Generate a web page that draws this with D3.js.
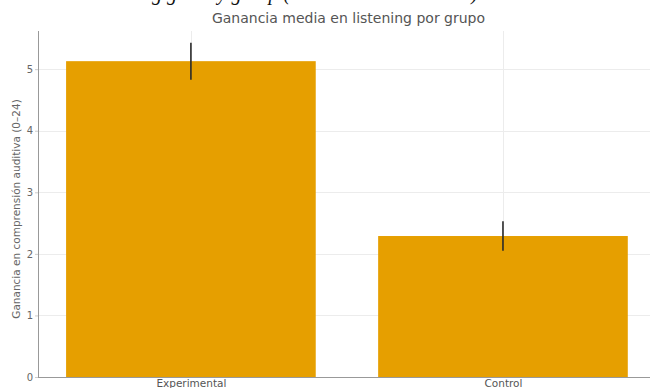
<!DOCTYPE html>
<html>
<head>
<meta charset="utf-8">
<script src="https://cdn.jsdelivr.net/npm/d3@7"></script>
<style>
  html, body { margin: 0; padding: 0; background: #fff; overflow: hidden; }
  svg { display: block; }
</style>
</head>
<body>
<svg id="chart" width="650" height="388"></svg>
<script>
// Mean listening gain per group, with error bars
const groups = ["Experimental", "Control"];
const meanGain = [5.13, 2.29];
const errGain = [0.30, 0.24];
const yTicks = [0, 1, 2, 3, 4, 5];

const titleText = "Ganancia media en listening por grupo";
const yLabelText = "Ganancia en comprensión auditiva (0–24)";
const captionText = "Listening gain by group (mean ± standard error)";

const W = 650, H = 388;
const plot = { left: 38, right: 659, top: 31, bottom: 377 };
const font = "DejaVu Sans, sans-serif";

const svg = d3.select("#chart");

// x is a continuous position scale: category i sits at i, bars are 0.8 wide
const x = d3.scaleLinear().domain([-0.49, 1.5]).range([plot.left, plot.right]);
const y = d3.scaleLinear().domain([0, 5.62]).range([plot.bottom, plot.top]);

// caption line above the figure (only its descenders fall inside the frame)
const caption = svg.append("text")
  .attr("x", 0)
  .attr("y", -0.5)
  .attr("font-family", "Liberation Serif, serif")
  .attr("font-style", "italic")
  .attr("font-size", 20)
  .attr("fill", "#111")
  .text(captionText);
// line the "g" of "Listening" up with the left third of the frame
const gPos = caption.node().getStartPositionOfChar(captionText.indexOf("g")).x;
caption.attr("x", 152 - gPos);

// grid
const grid = svg.append("g").attr("stroke", "#ececec").attr("stroke-width", 1);
grid.selectAll("line.h").data(yTicks).join("line")
  .attr("class", "h")
  .attr("x1", plot.left).attr("x2", W)
  .attr("y1", d => Math.round(y(d)) + 0.5).attr("y2", d => Math.round(y(d)) + 0.5);
grid.selectAll("line.v").data(groups).join("line")
  .attr("class", "v")
  .attr("x1", (d, i) => Math.round(x(i)) + 0.5).attr("x2", (d, i) => Math.round(x(i)) + 0.5)
  .attr("y1", plot.top).attr("y2", plot.bottom);

// bars
svg.append("g").selectAll("rect").data(meanGain).join("rect")
  .attr("x", (d, i) => x(i - 0.4))
  .attr("width", (d, i) => x(i + 0.4) - x(i - 0.4))
  .attr("y", d => y(d))
  .attr("height", d => y(0) - y(d))
  .attr("fill", "#E69F00");

// error bars
svg.append("g").selectAll("line").data(meanGain).join("line")
  .attr("x1", (d, i) => x(i)).attr("x2", (d, i) => x(i))
  .attr("y1", (d, i) => y(d + errGain[i]))
  .attr("y2", (d, i) => y(d - errGain[i]))
  .attr("stroke", "#2a2a2a")
  .attr("stroke-width", 1.6);

// y axis
const yAxis = d3.axisLeft(y).tickValues(yTicks).tickFormat(d3.format("d")).tickSize(3).tickPadding(2);
const gy = svg.append("g").attr("transform", `translate(${plot.left},0)`).call(yAxis);
gy.select(".domain").attr("stroke", "#999").attr("stroke-width", 1).attr("d", `M0.5,${plot.top}V${plot.bottom}`);
gy.selectAll(".tick line").attr("stroke", "#ccc");
gy.selectAll(".tick text").attr("fill", "#666").attr("font-size", 10).attr("font-family", font);

// x axis
const xAxis = d3.axisBottom(x).tickValues(groups.map((d, i) => i)).tickFormat(i => groups[i]).tickSize(0).tickPadding(3);
const gx = svg.append("g").attr("transform", `translate(0,${plot.bottom})`).call(xAxis);
gx.select(".domain").attr("stroke", "#999").attr("stroke-width", 1).attr("d", `M${plot.left},0.5H${W}`);
gx.selectAll(".tick text").attr("fill", "#555").attr("font-size", 10.5).attr("font-family", font);

// title
svg.append("text")
  .attr("x", (plot.left + plot.right) / 2)
  .attr("y", 23)
  .attr("text-anchor", "middle")
  .attr("font-family", font)
  .attr("font-size", 14)
  .attr("fill", "#555")
  .text(titleText);

// y label
svg.append("text")
  .attr("transform", `translate(20,${(plot.top + plot.bottom) / 2 + 5}) rotate(-90)`)
  .attr("text-anchor", "middle")
  .attr("font-family", font)
  .attr("font-size", 10.5)
  .attr("fill", "#666")
  .text(yLabelText);
</script>
</body>
</html>
